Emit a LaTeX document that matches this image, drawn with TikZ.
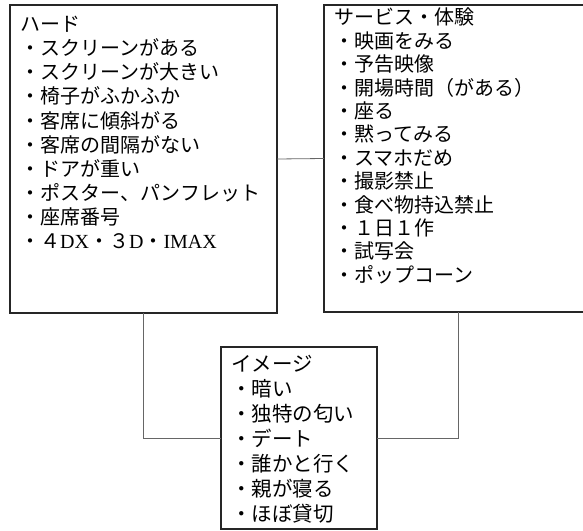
\documentclass[tikz,border=0pt]{standalone}
\usepackage{fontspec}
\newfontfamily\jp{Noto Sans CJK JP}
\newfontfamily\latn{Liberation Serif}
\begin{document}
\begin{tikzpicture}[x=1pt,y=-1pt,
  boxst/.style={draw=black!85,line width=1.2pt,rectangle,inner sep=0pt,outer sep=0pt,anchor=north west},
  conn/.style={draw=black!60,line width=0.8pt},
  txt/.style={anchor=north west,inner sep=0pt,align=left,text=black}]
\useasboundingbox (0,0) rectangle (583,530);
\clip (0,0) rectangle (583,530);
\node[boxst,minimum width=267pt,minimum height=308pt] (hard) at (10,5) {};
\node[boxst,minimum width=268pt,minimum height=307pt] (serv) at (324,5) {};
\node[boxst,minimum width=156pt,minimum height=182pt] (img) at (221,347) {};
\node[txt,font=\jp\fontsize{20}{24.1}\selectfont] (hardtxt) at ([shift={(10,11)}]hard.north west)
 {ハード\\・スクリーンがある\\・スクリーンが大きい\\・椅子がふかふか\\・客席に傾斜がる\\・客席の間隔がない\\・ドアが重い\\・ポスター、パンフレット\\・座席番号\\・４{\latn DX}・３{\latn D}・{\latn IMAX}};
\node[txt,font=\jp\fontsize{20}{23.4}\selectfont] (servtxt) at ([shift={(10,3)}]serv.north west)
 {サービス・体験\\・映画をみる\\・予告映像\\・開場時間（がある）\\・座る\\・黙ってみる\\・スマホだめ\\・撮影禁止\\・食べ物持込禁止\\・１日１作\\・試写会\\・ポップコーン};
\node[txt,font=\jp\fontsize{20.5}{25}\selectfont] (imgtxt) at ([shift={(10,8)}]img.north west)
 {イメージ\\・暗い\\・独特の匂い\\・デート\\・誰かと行く\\・親が寝る\\・ほぼ貸切};
\draw[conn] (hard.east) -- (serv.west);
\draw[conn] (hard.south) |- (img.west);
\draw[conn] (serv.south) |- (img.east);
\end{tikzpicture}
\end{document}
